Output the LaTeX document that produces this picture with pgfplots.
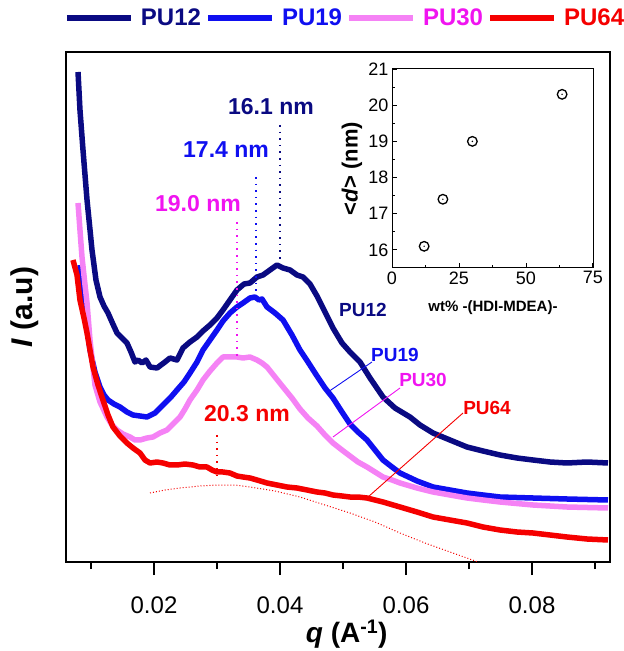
\documentclass[border=0pt]{standalone}
\usepackage{pgfplots}
\pgfplotsset{compat=1.18}
\usepackage{fontspec}
\setmainfont{Liberation Sans}
\definecolor{cA}{RGB}{10,10,130}
\definecolor{cB}{RGB}{15,15,240}
\definecolor{cCl}{RGB}{245,130,245}
\definecolor{cCt}{RGB}{240,20,240}
\definecolor{cD}{RGB}{245,0,0}
\pgfdeclareplotmark{odot}{%
  \pgfpathcircle{\pgfpointorigin}{\pgfplotmarksize}\pgfusepathqstroke
  \pgfpathcircle{\pgfpointorigin}{0.8pt}\pgfusepathqfill}
\newcommand{\fs}[1]{\fontsize{#1}{#1}\selectfont}
\begin{document}
\begin{tikzpicture}
\path[use as bounding box] (-66pt,-89pt) rectangle (558pt,562pt);
\begin{axis}[at={(0pt,0pt)}, anchor=south west, scale only axis,
  width=544pt, height=510pt,
  xmin=0.006032, xmax=0.092381, ymin=0, ymax=510,
  scaled x ticks=false,
  xtick={0.02,0.04,0.06,0.08}, xticklabels={0.02,0.04,0.06,0.08},
  minor xtick={0.01,0.03,0.05,0.07,0.09},
  ytick=\empty, xtick pos=bottom, tick align=outside,
  major tick length=13pt, minor tick length=7pt,
  axis line style={line width=1.2pt},
  every tick/.style={black, line width=1.2pt},
  xticklabel style={font=\fs{24}, yshift=-18pt},
  xlabel={\textbf{\textit{q} (A\textsuperscript{-1})}},
  xlabel style={font=\fs{28}, at={(axis description cs:0.516,-0.141)}, anchor=center},
  ylabel={\textbf{\textit{I} (a.u)}},
  ylabel style={font=\fs{30}, at={(axis description cs:-0.0754,0.5)}, anchor=center},
  legend columns=4,
  legend style={draw=none, fill=none, at={(axis description cs:-0.0037,1.0667)}, anchor=west,
    inner sep=0pt, outer sep=0pt, nodes={inner sep=0pt, font=\fs{24}\bfseries},
    /tikz/every odd column/.append style={column sep=7pt},
    /tikz/every even column/.append style={column sep=4pt}},
  legend image code/.code={\draw[#1, line width=6pt] (0pt,0pt) -- (64pt,0pt);},
]
% PU12
\addplot[cA, line width=5.5pt, line join=round] coordinates {
(0.00794,490)(0.00825,452)(0.00873,412)(0.00937,362)(0.01016,312)(0.01079,282)(0.01143,265)
(0.01206,256)(0.01270,249)(0.01333,240)(0.01413,229)(0.01492,224)(0.01571,219)(0.01635,210)
(0.01698,200)(0.01746,202)(0.01810,199)(0.01873,202)(0.01937,195)(0.02048,194)(0.02111,197)
(0.02175,200)(0.02254,204)(0.02365,202)(0.02460,214)(0.02571,220)(0.02683,225)(0.02778,231)
(0.02889,237)(0.03000,244)(0.03095,252)(0.03206,262)(0.03317,272)(0.03429,278)(0.03524,279)
(0.03635,285)(0.03730,287)(0.03841,292)(0.03952,297)(0.04048,294)(0.04159,292)(0.04270,287)
(0.04365,285)(0.04476,278)(0.04587,266)(0.04714,250)(0.04841,234)(0.04984,219)(0.05111,210)
(0.05270,200)(0.05429,184)(0.05635,165)(0.05825,154)(0.06063,145)(0.06222,137)(0.06429,129)
(0.06698,122)(0.06968,115)(0.07222,111)(0.07492,107)(0.07762,104)(0.08016,102)(0.08286,100)
(0.08556,99)(0.08873,100)(0.09206,99)};
\addlegendentry{\textcolor{cA}{PU12}}
% PU19
\addplot[cB, line width=5.5pt, line join=round] coordinates {
(0.00825,297)(0.00873,272)(0.00921,242)(0.00984,212)(0.01063,190)(0.01143,175)(0.01206,167)
(0.01270,162)(0.01365,158)(0.01460,155)(0.01571,150)(0.01667,147)(0.01778,146)(0.01889,145)
(0.01952,147)(0.02016,149)(0.02095,154)(0.02175,159)(0.02270,165)(0.02365,172)(0.02476,180)
(0.02571,189)(0.02683,200)(0.02778,212)(0.02889,222)(0.03000,232)(0.03095,241)(0.03206,249)
(0.03317,255)(0.03413,259)(0.03524,264)(0.03603,265)(0.03667,262)(0.03714,263)(0.03794,255)
(0.03921,249)(0.04048,242)(0.04190,227)(0.04317,212)(0.04444,200)(0.04587,186)(0.04714,174)
(0.04841,164)(0.04984,150)(0.05111,138)(0.05238,130)(0.05381,122)(0.05508,112)(0.05635,102)
(0.05778,95)(0.05905,89)(0.06175,81)(0.06429,75)(0.06698,72)(0.06968,69)(0.07222,67)
(0.07492,65)(0.08016,64)(0.08556,63)(0.09206,62)};
\addlegendentry{\textcolor{cB}{PU19}}
% PU30
\addplot[cCl, line width=5.5pt, line join=round] coordinates {
(0.00794,359)(0.00825,332)(0.00857,305)(0.00905,277)(0.00937,259)(0.00984,222)(0.01063,177)
(0.01143,160)(0.01254,145)(0.01333,137)(0.01413,132)(0.01508,128)(0.01619,125)(0.01698,122)
(0.01778,122)(0.01889,124)(0.01984,125)(0.02095,129)(0.02206,132)(0.02302,138)(0.02413,145)
(0.02492,153)(0.02571,162)(0.02683,172)(0.02778,182)(0.02889,191)(0.03000,199)(0.03095,205)
(0.03206,205)(0.03317,205)(0.03413,204)(0.03524,205)(0.03635,202)(0.03714,199)(0.03794,195)
(0.03921,185)(0.04048,175)(0.04190,164)(0.04317,153)(0.04444,144)(0.04587,136)(0.04714,127)
(0.04841,119)(0.04984,112)(0.05111,106)(0.05238,100)(0.05381,95)(0.05508,90)(0.05635,85)
(0.05778,82)(0.05905,79)(0.06175,74)(0.06429,70)(0.06698,67)(0.06968,64)(0.07222,62)
(0.07492,60)(0.08016,57)(0.08556,55)(0.09206,54)};
\addlegendentry{\textcolor{cCt}{PU30}}
% PU64
\addplot[cD, line width=5.5pt, line join=round] coordinates {
(0.00714,302)(0.00778,287)(0.00825,262)(0.00889,244)(0.00937,229)(0.00984,212)(0.01032,195)
(0.01111,177)(0.01190,162)(0.01270,147)(0.01349,135)(0.01460,126)(0.01571,119)(0.01667,114)
(0.01778,109)(0.01857,102)(0.01937,99)(0.02048,100)(0.02143,99)(0.02254,97)(0.02365,97)
(0.02492,98)(0.02619,97)(0.02730,95)(0.02841,95)(0.02921,92)(0.03000,90)(0.03095,90)
(0.03206,89)(0.03317,86)(0.03413,85)(0.03524,84)(0.03635,82)(0.03794,79)(0.03952,77)
(0.04111,75)(0.04270,74)(0.04429,72)(0.04587,70)(0.04714,69)(0.04841,67)(0.04984,66)
(0.05111,65)(0.05238,65)(0.05381,64)(0.05635,60)(0.05905,55)(0.06175,50)(0.06429,45)
(0.06698,42)(0.06968,39)(0.07222,35)(0.07492,32)(0.07762,30)(0.08016,29)(0.08286,27)
(0.08556,25)(0.08873,23)(0.09206,22)};
\addlegendentry{\textcolor{cD}{PU64}}
% fitted curve for PU64
\addplot[cD, line width=1pt, dash pattern=on 1pt off 2pt, forget plot] coordinates {
(0.01937,69)(0.02175,72)(0.02413,74)(0.02730,76)(0.03000,77)(0.03286,77)(0.03524,75)
(0.03921,71)(0.04317,65)(0.04714,57)(0.05111,49)(0.05508,40)(0.05905,29)(0.06302,19)
(0.06698,10)(0.07143,0)};
% peak markers
\draw[cA, line width=1.6pt, dash pattern=on 1.6pt off 5pt] (0.04000,437) -- (0.04000,298);
\draw[cB, line width=1.6pt, dash pattern=on 1.6pt off 5pt] (0.03619,385) -- (0.03619,266);
\draw[cCt, line width=1.6pt, dash pattern=on 1.6pt off 5pt] (0.03317,340) -- (0.03317,205);
\draw[cD, line width=1.6pt, dash pattern=on 1.6pt off 5pt] (0.03000,127) -- (0.03000,84);
\node[cA, font=\fs{23}\bfseries] at (0.03857,455) {16.1 nm};
\node[cB, font=\fs{23}\bfseries] at (0.03143,412) {17.4 nm};
\node[cCt, font=\fs{23}\bfseries] at (0.02698,358) {19.0 nm};
\node[cD, font=\fs{23}\bfseries] at (0.03476,148) {20.3 nm};
% series labels with leaders
\node[cA, font=\fs{19}\bfseries] at (0.05317,252) {PU12};
\node[cB, font=\fs{19}\bfseries] at (0.05825,207) {PU19};
\node[cCt, font=\fs{19}\bfseries] at (0.06270,182) {PU30};
\node[cD, font=\fs{19}\bfseries] at (0.07286,154) {PU64};
\draw[cB, line width=0.9pt] (0.04762,170) -- (0.05460,200);
\draw[cCt, line width=0.9pt] (0.04841,125) -- (0.05905,174);
\draw[cD, line width=0.9pt] (0.05397,65) -- (0.06905,149);
\end{axis}
\begin{axis}[at={(326pt,294pt)}, anchor=south west, scale only axis,
  width=202pt, height=199pt,
  xmin=0, xmax=75.4, ymin=15.5, ymax=21,
  xtick={0,25,50,75}, ytick={16,17,18,19,20,21},
  minor x tick num=1, minor y tick num=1,
  tick align=inside, xtick pos=bottom, ytick pos=left,
  major tick length=5pt, minor tick length=3pt,
  axis line style={line width=1pt},
  every tick/.style={black, line width=0.9pt},
  axis background/.style={fill=white},
  /pgf/number format/assume math mode=true,
  ticklabel style={font=\fs{18}},
  xlabel={\textbf{wt\% -(HDI-MDEA)-}},
  xlabel style={font=\fs{15}, at={(axis description cs:0.5,-0.201)}, anchor=center},
  ylabel={\textbf{<\textit{d}> (nm)}},
  ylabel style={font=\fs{22}, at={(axis description cs:-0.198,0.5)}, anchor=center},
]
\addplot[only marks, mark=odot, mark size=4.8pt, mark options={black, line width=1.3pt}] coordinates {
(12,16.1)(19,17.4)(30,19.0)(63.5,20.3)};
\end{axis}
\end{tikzpicture}
\end{document}
